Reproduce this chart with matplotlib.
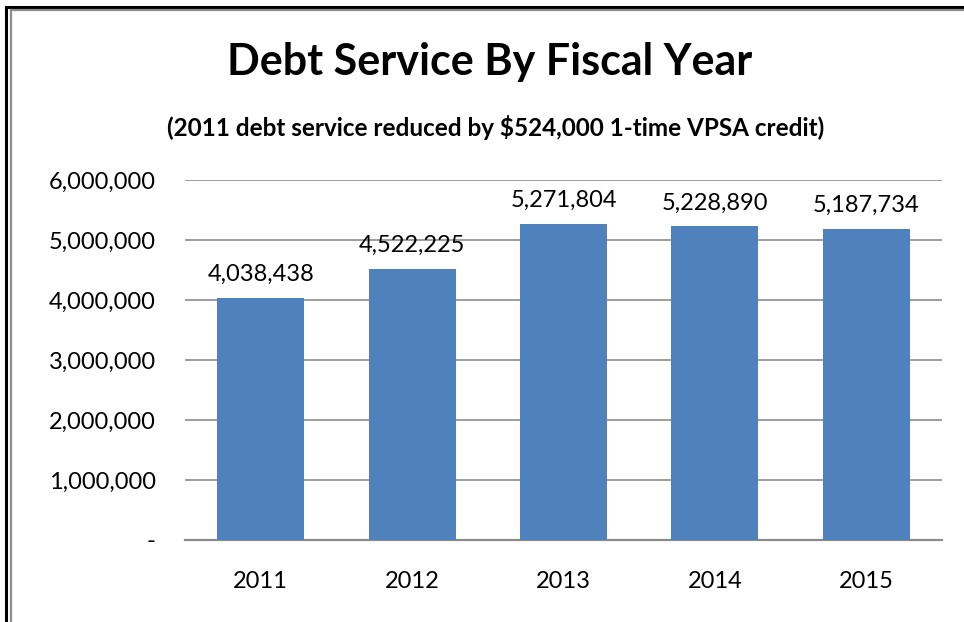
import matplotlib
matplotlib.use("Agg")
import matplotlib.pyplot as plt
from matplotlib.lines import Line2D
from matplotlib.ticker import FuncFormatter

years = ["2011", "2012", "2013", "2014", "2015"]
debt_service = [4038438, 4522225, 5271804, 5228890, 5187734]
y_ticks = [0, 1000000, 2000000, 3000000, 4000000, 5000000, 6000000]

plt.rcParams["font.family"] = ["Lato", "DejaVu Sans"]

W, H = 964, 622
fig = plt.figure(figsize=(W / 100, H / 100), dpi=100)

# frame lines around the chart
fig.add_artist(Line2D([6 / W, 6 / W], [0, 1 - 7 / H], color="black", lw=2.2))
fig.add_artist(Line2D([6 / W, 1], [1 - 7 / H, 1 - 7 / H], color="black", lw=2.2))
fig.add_artist(Line2D([11 / W, 11 / W], [0, 1 - 10 / H], color="#8c8c8c", lw=1.6))
fig.add_artist(Line2D([11 / W, 1], [1 - 10 / H, 1 - 10 / H], color="#8c8c8c", lw=1.6))

ax = fig.add_axes([185 / W, 1 - 540 / H, (942 - 185) / W, (540 - 180) / H])
x = range(len(years))
bars = ax.bar(x, debt_service, width=0.575, color="#4f81bd", zorder=3)

ax.set_xlim(-0.5, len(years) - 0.5)
ax.set_ylim(0, 6000000)
ax.set_yticks(y_ticks)
ax.yaxis.set_major_formatter(FuncFormatter(lambda v, p: "-" if v == 0 else f"{int(v):,}"))
ax.set_xticks(list(x))
ax.set_xticklabels(years)
ax.grid(axis="y", color="#8c8c8c", lw=1.2, zorder=0)
for s in ["top", "right", "left"]:
    ax.spines[s].set_visible(False)
ax.spines["bottom"].set_color("#8c8c8c")
ax.spines["bottom"].set_linewidth(1.6)
ax.tick_params(axis="both", length=0, labelsize=17, colors="black")
ax.tick_params(axis="y", pad=21)
ax.tick_params(axis="x", pad=22.5)

for xi, v in zip(x, debt_service):
    ax.annotate(f"{v:,}", (xi, v), xytext=(0, 9), textcoords="offset points",
                ha="center", va="bottom", fontsize=17)

fig.text(490 / W, 1 - 62 / H, "Debt Service By Fiscal Year", ha="center", va="center",
         fontsize=31, fontweight="bold")
fig.text(496 / W, 1 - 127 / H, "(2011 debt service reduced by $524,000 1-time VPSA credit)",
         ha="center", va="center", fontsize=17.5, fontweight="bold")

fig.savefig("out.png", dpi=100)
